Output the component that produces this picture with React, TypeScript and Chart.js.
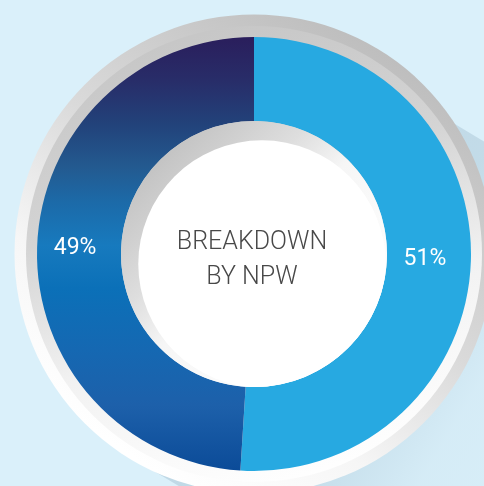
import React, { useEffect, useRef } from "react";
import { Chart, registerables } from "chart.js";

Chart.register(...registerables);

const categories = ["NPW A", "NPW B"];
const shares = [51, 49];
const centerLines = ["BREAKDOWN", "BY NPW"];

const W = 484;
const H = 486;

function darkGradient(ctx: CanvasRenderingContext2D, top: number, bottom: number) {
  const g = ctx.createLinearGradient(0, top, 0, bottom);
  g.addColorStop(0.0, "#2a1e5c");
  g.addColorStop(0.1, "#282d69");
  g.addColorStop(0.2, "#22427a");
  g.addColorStop(0.3, "#235a90");
  g.addColorStop(0.38, "#1c6aa8");
  g.addColorStop(0.48, "#177abe");
  g.addColorStop(0.58, "#0b70b8");
  g.addColorStop(0.72, "#1568b2");
  g.addColorStop(0.85, "#1d60aa");
  g.addColorStop(1.0, "#0b4b98");
  return g;
}

const decorPlugin = {
  id: "decor",
  beforeDraw(chart: any) {
    const ctx: CanvasRenderingContext2D = chart.ctx;
    const meta = chart.getDatasetMeta(0);
    const arc = meta.data[0];
    if (!arc) return;
    const { x: cx, y: cy, outerRadius: R } = arc.getProps(["x", "y", "outerRadius"], true);
    ctx.save();
    ctx.fillStyle = "#daf0fa";
    ctx.fillRect(0, 0, chart.width, chart.height);

    // long shadow toward bottom-right
    const th = (31 * Math.PI) / 180;
    const d = { x: Math.cos(th), y: Math.sin(th) };
    const n = { x: Math.sin(th), y: -Math.cos(th) };
    const a1 = R * 0.99;
    const a2 = R * 1.095;
    const L = 420;
    const p1 = { x: cx + n.x * a1, y: cy + n.y * a1 };
    const p2 = { x: cx - n.x * a2, y: cy - n.y * a2 };
    const sg = ctx.createLinearGradient(cx, cy, cx + d.x * L, cy + d.y * L);
    sg.addColorStop(0, "rgba(60,100,130,0.17)");
    sg.addColorStop(0.35, "rgba(60,100,130,0.15)");
    sg.addColorStop(0.62, "rgba(60,100,130,0.03)");
    sg.addColorStop(1, "rgba(60,100,130,0)");
    ctx.fillStyle = sg;
    ctx.beginPath();
    ctx.moveTo(p1.x, p1.y);
    ctx.lineTo(p1.x + d.x * L, p1.y + d.y * L);
    ctx.lineTo(p2.x + d.x * L, p2.y + d.y * L);
    ctx.lineTo(p2.x, p2.y);
    ctx.closePath();
    ctx.fill();

    // outer bezel
    const rOut = R + 22.5;
    const rMid = R + 11;
    const g1 = ctx.createLinearGradient(cx + rOut * 0.6, cy - rOut * 0.8, cx - rOut * 0.5, cy + rOut * 0.85);
    g1.addColorStop(0, "#bebebe");
    g1.addColorStop(0.45, "#dadada");
    g1.addColorStop(0.75, "#f6f6f6");
    g1.addColorStop(1, "#ffffff");
    ctx.fillStyle = g1;
    ctx.beginPath();
    ctx.arc(cx, cy, rOut, 0, Math.PI * 2);
    ctx.fill();

    const g2 = ctx.createLinearGradient(cx - rMid * 0.3, cy - rMid, cx + rMid * 0.3, cy + rMid);
    g2.addColorStop(0, "#c6c6c6");
    g2.addColorStop(0.35, "#d4d4d4");
    g2.addColorStop(0.65, "#f2f2f2");
    g2.addColorStop(1, "#ffffff");
    ctx.fillStyle = g2;
    ctx.beginPath();
    ctx.arc(cx, cy, rMid, 0, Math.PI * 2);
    ctx.fill();
    ctx.restore();
  },
  afterDatasetsDraw(chart: any) {
    const ctx: CanvasRenderingContext2D = chart.ctx;
    const meta = chart.getDatasetMeta(0);
    const arc0 = meta.data[0];
    if (!arc0) return;
    const { x: cx, y: cy, innerRadius: r } = arc0.getProps(["x", "y", "innerRadius"], true);

    // inner hub
    ctx.save();
    ctx.beginPath();
    ctx.arc(cx, cy, r, 0, Math.PI * 2);
    ctx.clip();
    const g = ctx.createLinearGradient(cx - r * 0.7, cy - r * 0.7, cx + r * 0.7, cy + r * 0.7);
    g.addColorStop(0, "#c4c4c4");
    g.addColorStop(0.3, "#dedede");
    g.addColorStop(0.5, "#f6f6f6");
    g.addColorStop(1, "#ffffff");
    ctx.fillStyle = g;
    ctx.fillRect(cx - r, cy - r, r * 2, r * 2);
    ctx.fillStyle = "#ffffff";
    ctx.beginPath();
    ctx.arc(cx + r * 0.06, cy + r * 0.075, r * 0.93, 0, Math.PI * 2);
    ctx.fill();
    ctx.restore();

    ctx.save();
    // center text
    ctx.fillStyle = "#484848";
    ctx.font = "300 25px Roboto";
    ctx.textAlign = "center";
    ctx.textBaseline = "alphabetic";
    ctx.fillText(centerLines[0], cx - 2, cy - 5);
    ctx.fillText(centerLines[1], cx - 2, cy + 30);

    // percentage labels
    ctx.fillStyle = "#ffffff";
    ctx.font = "400 23px Roboto";
    ctx.textBaseline = "middle";
    meta.data.forEach((el: any, i: number) => {
      const p = el.tooltipPosition();
      ctx.fillText(shares[i] + "%", p.x - 4, p.y);
    });
    ctx.restore();
  },
};

export default function App() {
  const ref = useRef<HTMLCanvasElement>(null);
  useEffect(() => {
    if (!ref.current) return;
    const chart = new Chart(ref.current, {
      type: "doughnut",
      data: {
        labels: categories,
        datasets: [
          {
            data: shares,
            borderWidth: 0,
            backgroundColor: (c: any) => {
              if (c.dataIndex === 0) return "#27a9e1";
              const area = c.chart.chartArea;
              if (!area) return "#1568b2";
              return darkGradient(c.chart.ctx, area.top, area.bottom);
            },
          },
        ],
      },
      options: {
        responsive: false,
        animation: false,
        cutout: "61.3%",
        layout: { padding: { left: 37, top: 37, right: 13, bottom: 15 } },
        plugins: { legend: { display: false }, tooltip: { enabled: false } },
      },
      plugins: [decorPlugin],
    });
    return () => chart.destroy();
  }, []);
  return (
    <div style={{ position: "fixed", left: 0, top: 0, width: W, height: H, background: "#daf0fa" }}>
      <canvas ref={ref} width={W} height={H} style={{ display: "block" }} />
    </div>
  );
}
